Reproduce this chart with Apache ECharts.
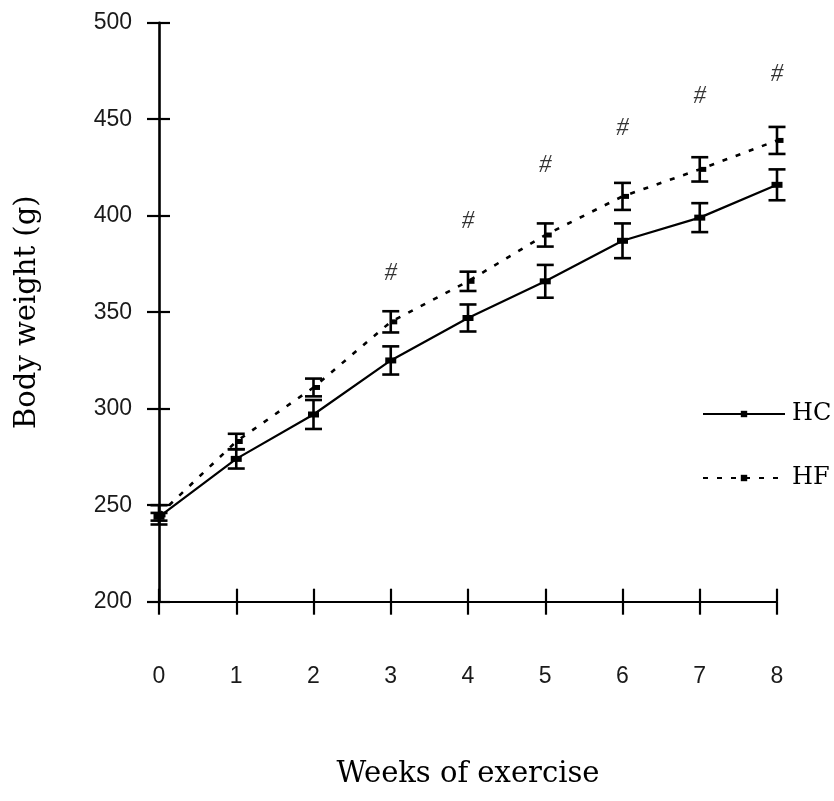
<!DOCTYPE html>
<html>
<head>
<meta charset="utf-8">
<script src="https://cdn.jsdelivr.net/npm/echarts@6/dist/echarts.min.js"></script>
<style>
html,body{margin:0;padding:0;background:#fff;}
#chart{width:834px;height:801px;}
</style>
</head>
<body>
<div id="chart"></div>
<script>
// ---- data ----
const weeks = [0, 1, 2, 3, 4, 5, 6, 7, 8];
const hcMean = [244, 274, 297, 325, 347, 366, 387, 399, 416];
const hcErr  = [2, 5, 7.5, 7.3, 7, 8.5, 9, 7.5, 8];
const hfMean = [245, 283, 311, 345, 366, 390, 410, 424, 439];
const hfErr  = [5, 4, 4.6, 5.5, 5, 6, 7, 6.3, 7];
const hashWeeks = [3, 4, 5, 6, 7, 8];
const hashY = [370, 397, 426, 445, 462, 473];
const yTicks = { min: 200, max: 500, interval: 50 };
const seriesNames = ['HC', 'HF'];
const xName = 'Weeks of exercise';
const yName = 'Body weight (g)';

const chart = echarts.init(document.getElementById('chart'), null, {renderer: 'canvas'});

function errRender(params, api) {
  const x = api.value(0), y = api.value(1), e = api.value(2);
  const top = api.coord([x, y + e]);
  const bot = api.coord([x, y - e]);
  const hw = 8.5;
  const st = {stroke: '#000', lineWidth: 2.6};
  return {
    type: 'group',
    children: [
      {type: 'line', shape: {x1: top[0], y1: top[1], x2: bot[0], y2: bot[1]}, style: st},
      {type: 'line', shape: {x1: top[0] - hw, y1: top[1], x2: top[0] + hw, y2: top[1]}, style: st},
      {type: 'line', shape: {x1: bot[0] - hw, y1: bot[1], x2: bot[0] + hw, y2: bot[1]}, style: st}
    ]
  };
}

const axisFont = {fontFamily: 'Liberation Sans', fontSize: 23, color: '#1a1a1a'};
const serif = 'DejaVu Serif';

const option = {
  backgroundColor: '#fff',
  animation: false,
  grid: {left: 159, right: 57, top: 22.7, bottom: 199.3, containLabel: false},
  legend: {
    orient: 'vertical',
    left: 697,
    top: 397,
    itemWidth: 82,
    itemHeight: 8,
    itemGap: 40,
    data: seriesNames,
    textStyle: {fontFamily: serif, fontSize: 24, color: '#000', padding: [0, 0, 0, 2]}
  },
  xAxis: [{
    type: 'value', min: 0, max: 8, interval: 1,
    name: xName, nameLocation: 'middle', nameGap: 158,
    nameTextStyle: {fontFamily: serif, fontSize: 29, color: '#000'},
    axisLine: {show: true, onZero: false, lineStyle: {color: '#000', width: 2.2}},
    axisTick: {show: true, inside: false, length: 13, lineStyle: {color: '#000', width: 2.2}},
    axisLabel: Object.assign({margin: 63}, axisFont),
    splitLine: {show: false}
  }, {
    type: 'value', min: 0, max: 8, interval: 1, position: 'bottom',
    axisLine: {show: false},
    axisTick: {show: true, inside: true, length: 13, lineStyle: {color: '#000', width: 2.2}},
    axisLabel: {show: false}, splitLine: {show: false}
  }],
  yAxis: [{
    type: 'value', min: yTicks.min, max: yTicks.max, interval: yTicks.interval,
    name: yName, nameLocation: 'middle', nameGap: 117,
    nameTextStyle: {fontFamily: serif, fontSize: 29, color: '#000'},
    axisLine: {show: true, onZero: false, lineStyle: {color: '#000', width: 2.6}},
    axisTick: {show: true, inside: false, length: 12, lineStyle: {color: '#000', width: 2.2}},
    axisLabel: Object.assign({margin: 27}, axisFont),
    splitLine: {show: false}
  }, {
    type: 'value', min: yTicks.min, max: yTicks.max, interval: yTicks.interval, position: 'left', offset: 0,
    axisLine: {show: false},
    axisTick: {show: true, inside: true, length: 11, lineStyle: {color: '#000', width: 2.2}},
    axisLabel: {show: false}, splitLine: {show: false}
  }],
  series: [
    {
      name: seriesNames[0], type: 'line',
      data: weeks.map((w, i) => [w, hcMean[i]]),
      symbol: 'rect', symbolSize: [11, 6],
      itemStyle: {color: '#000'},
      lineStyle: {color: '#000', width: 2.2, type: 'solid'},
      z: 3
    },
    {
      name: seriesNames[1], type: 'line',
      data: weeks.map((w, i) => [w, hfMean[i]]),
      symbol: 'rect', symbolSize: [7, 5], symbolOffset: [3, 0],
      itemStyle: {color: '#000'},
      lineStyle: {color: '#000', width: 2.6, type: [5, 9]},
      z: 3
    },
    {
      type: 'custom', renderItem: errRender,
      data: weeks.map((w, i) => [w, hcMean[i], hcErr[i]]),
      z: 4, silent: true
    },
    {
      type: 'custom', renderItem: errRender,
      data: weeks.map((w, i) => [w, hfMean[i], hfErr[i]]),
      z: 4, silent: true
    },
    {
      type: 'scatter',
      data: hashWeeks.map((w, i) => [w, hashY[i]]),
      symbolSize: 0,
      label: {show: true, position: 'inside', formatter: '#', fontFamily: 'Liberation Serif', fontStyle: 'italic', fontSize: 25, color: '#000'},
      silent: true
    }
  ]
};
chart.setOption(option);
</script>
</body>
</html>
